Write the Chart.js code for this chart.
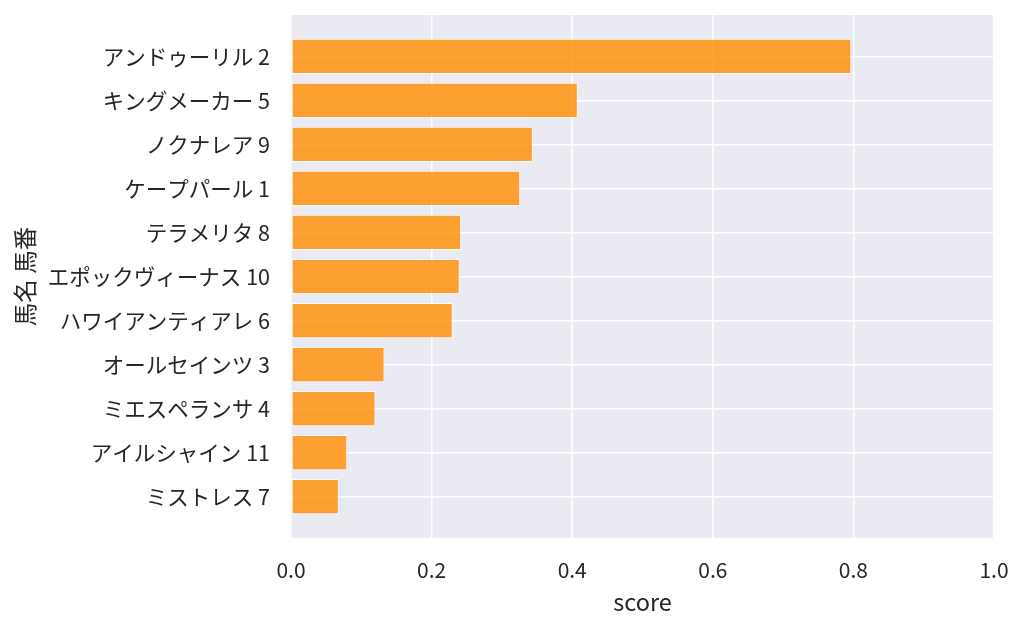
<!DOCTYPE html>
<html>
<head>
<meta charset="utf-8">
<script src="https://cdn.jsdelivr.net/npm/chart.js@4"></script>
<style>
html,body{margin:0;padding:0;background:#fff}
#wrap{width:1024px;height:627px}
</style>
</head>
<body>
<div id="wrap"><canvas id="chart"></canvas></div>
<script>
let horses=["アンドゥーリル","キングメーカー","ノクナレア","ケープパール","テラメリタ","エポックヴィーナス","ハワイアンティアレ","オールセインツ","ミエスペランサ","アイルシャイン","ミストレス"]
let numbers=[2,5,9,1,8,10,6,3,4,11,7]
let scores=[0.797,0.408,0.344,0.326,0.242,0.240,0.230,0.133,0.120,0.080,0.068]
let xTicks=[0,0.2,0.4,0.6,0.8,1.0]

let labels=horses.map((h,i)=>h+" "+numbers[i])
let font="'Noto Sans CJK JP', 'Noto Sans', sans-serif"

let bgPlugin={
id:"bg",
beforeDraw(c){
let a=c.chartArea
c.ctx.save()
c.ctx.fillStyle="#eaeaf2"
c.ctx.fillRect(a.left,a.top,a.right-a.left,a.bottom-a.top)
c.ctx.restore()
}
}

let ctx=document.getElementById("chart").getContext("2d")

let chart=new Chart(ctx,{
type:"bar",
data:{
datasets:[{
data:scores.map((s,i)=>({x:s,y:i})),
backgroundColor:"rgba(255,140,0,0.8)",
borderColor:"rgba(255,255,255,0.7)",
borderWidth:1,
borderSkipped:false,
barPercentage:0.8,
categoryPercentage:1
}]
},
options:{
responsive:true,
maintainAspectRatio:false,
animation:false,
indexAxis:"y",
layout:{padding:{left:0,right:30,top:15,bottom:0}},
plugins:{legend:{display:false},tooltip:{enabled:false}},
scales:{
x:{
type:"linear",
min:0,
max:1,
afterBuildTicks:s=>{s.ticks=xTicks.map(v=>({value:v}))},
afterFit:s=>{s.height=89;s.paddingLeft=0;s.paddingRight=0},
grid:{color:"#ffffff",lineWidth:1.5,drawTicks:false},
border:{display:false},
ticks:{color:"#262626",padding:19,font:{family:font,size:21},callback:v=>v.toFixed(1)},
title:{display:true,text:"score",color:"#262626",font:{family:font,size:23.5},padding:{top:0,bottom:11}}
},
y:{
type:"linear",
reverse:true,
offset:false,
min:-0.94,
max:10.94,
afterBuildTicks:s=>{s.ticks=labels.map((l,i)=>({value:i}))},
afterFit:s=>{s.width=291;s.paddingTop=0;s.paddingBottom=0},
grid:{color:"#ffffff",lineWidth:1.5,drawTicks:false,offset:false},
border:{display:false},
ticks:{color:"#262626",padding:21,font:{family:font,size:21.5},callback:v=>labels[v]},
title:{display:true,text:"馬名 馬番",color:"#262626",font:{family:font,size:23.5},padding:{top:11,bottom:0}}
}
}
},
plugins:[bgPlugin]
})
</script>
</body>
</html>
